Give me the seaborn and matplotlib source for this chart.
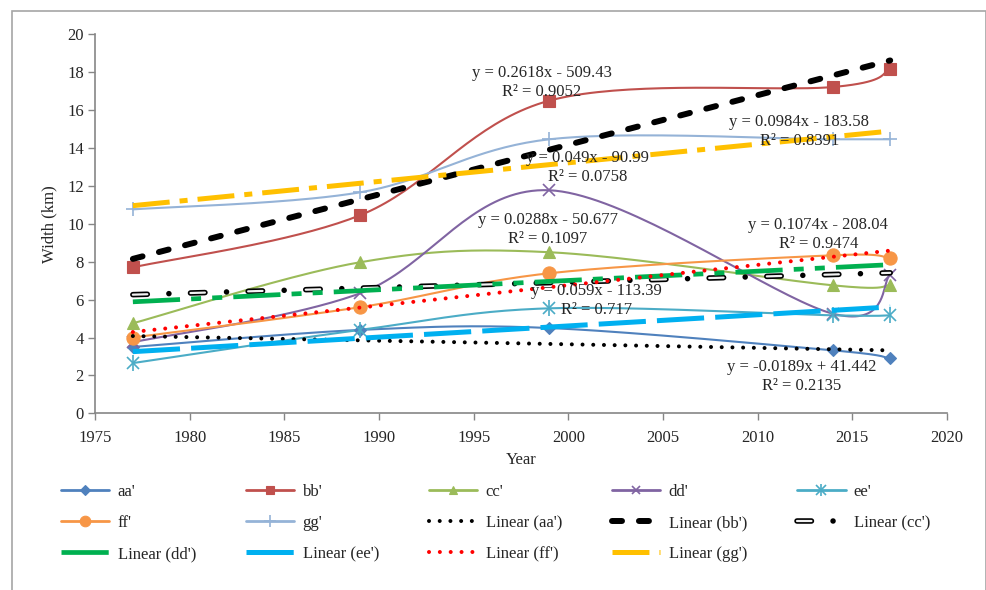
import numpy as np
import pandas as pd
import seaborn as sns
import matplotlib.pyplot as plt
from matplotlib.lines import Line2D
from matplotlib.patches import Rectangle

# data
years = [1977, 1989, 1999, 2014, 2017]
aa = [3.5, 4.4, 4.5, 3.32, 2.9]
bb = [7.7, 10.45, 16.5, 17.22, 18.15]
cc = [4.75, 7.97, 8.5, 6.75, 6.75]
dd = [3.75, 6.33, 11.77, 5.25, 7.3]
ee = [2.65, 4.4, 5.54, 5.17, 5.17]
ff = [4.0, 5.6, 7.39, 8.34, 8.18]
gg = [10.76, 11.66, 14.46, 14.46, 14.46]

names = ["aa'", "bb'", "cc'", "dd'", "ee'", "ff'", "gg'"]
values = [aa, bb, cc, dd, ee, ff, gg]

# trend line coefficients (from the labels)
slopes = [-0.0189, 0.2618, 0.0288, 0.049, 0.059, 0.1074, 0.0984]
icepts = [41.442, -509.43, -50.677, -90.99, -113.39, -208.04, -183.58]
eq_text = ["y = -0.0189x + 41.442", "y = 0.2618x - 509.43", "y = 0.0288x - 50.677",
           "y = 0.049x - 90.99", "y = 0.059x - 113.39", "y = 0.1074x - 208.04",
           "y = 0.0984x - 183.58"]
r2_text = ["R² = 0.2135", "R² = 0.9052", "R² = 0.1097", "R² = 0.0758",
           "R² = 0.717", "R² = 0.9474", "R² = 0.8391"]
eq_x = [2012.3, 1998.6, 1998.9, 2001.0, 2001.5, 2013.2, 2012.2]
eq_y = [2.43, 17.94, 10.18, 13.46, 6.44, 9.92, 15.36]

sns.set_theme(style="white")
plt.rcParams['font.family'] = ['Liberation Serif', 'DejaVu Serif']
plt.rcParams['lines.scale_dashes'] = False
FS = 12

colors = ['#4F81BD', '#C0504D', '#9BBB59', '#8064A2', '#4BACC6', '#F79646', '#95B3D7']
markers = ['D', 's', '^', 'x', 'x', 'o', '+']
msizes = [6.5, 8, 8, 8, 9, 9.5, 10]


def smooth(xs, ys, n=40):
    # catmull-rom style smoothing, like excel "smoothed line"
    p = np.column_stack([xs, ys]).astype(float)
    p = np.vstack([p[0], p, p[-1]])
    out = []
    for i in range(1, len(p) - 2):
        p0, p1, p2, p3 = p[i - 1], p[i], p[i + 1], p[i + 2]
        t = np.linspace(0, 1, n)[:, None]
        c1 = p1 + (p2 - p0) / 6
        c2 = p2 - (p3 - p1) / 6
        seg = (1 - t) ** 3 * p1 + 3 * (1 - t) ** 2 * t * c1 + 3 * (1 - t) * t ** 2 * c2 + t ** 3 * p2
        out.append(seg if i == 1 else seg[1:])
    out = np.vstack(out)
    return out[:, 0], out[:, 1]


fig = plt.figure(figsize=(9.87, 5.9), dpi=100)
ax = fig.add_axes([95 / 987, 1 - 413.3 / 590, (947 - 95) / 987, (413.3 - 34.3) / 590])

fig.patches.append(Rectangle((12 / 987, -0.1), (986 - 12) / 987, 1.1 - 11 / 590,
                             transform=fig.transFigure, fill=False,
                             edgecolor='#a6a6a6', linewidth=1.2, zorder=0))

# series (smoothed) + markers
handles = []
for name, vals, col, mk, ms in zip(names, values, colors, markers, msizes):
    sx, sy = smooth(years, vals)
    sns.lineplot(x=sx, y=sy, ax=ax, color=col, linewidth=1.5, sort=False,
                 estimator=None, zorder=3)
    mew = 1.2 if mk in ('x', '+') else 0.8
    ax.plot(years, vals, linestyle='none', marker=mk, markersize=ms, color=col,
            markeredgewidth=mew, zorder=4)
    h = Line2D([], [], color=col, linewidth=2, marker=mk, markersize=ms * 0.8,
               markeredgewidth=mew)
    if name == "ee'":
        ax.plot(years, vals, linestyle='none', marker='|', markersize=ms + 2,
                color=col, markeredgewidth=1.2, zorder=4)
        h = (h, Line2D([], [], color=col, linestyle='none', marker='|',
                       markersize=ms * 0.8 + 2, markeredgewidth=1.2))
    handles.append(h)

# trend line styles
trend_styles = [
    dict(color='black', linewidth=2.9, linestyle=(0, (0.01, 7.7)), dash_capstyle='round'),
    dict(color='black', linewidth=4.3, linestyle=(0, (7.2, 12.2)), dash_capstyle='round'),
    None,
    dict(color='#00B050', linewidth=3.4, linestyle=(0, (34, 8, 7.2, 8, 7.2, 8)),
         dash_capstyle='butt'),
    dict(color='#00B0F0', linewidth=3.6, linestyle=(0, (34, 8)), dash_capstyle='butt'),
    dict(color='#FF0000', linewidth=2.9, linestyle=(0, (0.01, 7.8)), dash_capstyle='round'),
    dict(color='#FFC000', linewidth=3.6, linestyle=(0, (26.6, 7.2, 5.8, 7.2)),
         dash_capstyle='butt'),
]

tx = np.array([years[0], years[-1]], dtype=float)
trend_handles = []
for i, (name, m, b) in enumerate(zip(names, slopes, icepts)):
    ty = m * tx + b
    if trend_styles[i] is None:
        # black outlined dash with white core, then a dot
        outer = dict(color='black', linewidth=4.0, linestyle=(0, (10.4, 15.55, 0.01, 15.55)),
                     dash_capstyle='round')
        inner = dict(color='#f2f2f2', linewidth=1.6, linestyle=(0, (10.4, 31.11)),
                     dash_capstyle='round')
        ax.plot(tx, ty, zorder=5, **outer)
        ax.plot(tx, ty, zorder=5, **inner)
        trend_handles.append((Line2D([], [], **outer), Line2D([], [], **inner)))
    else:
        ax.plot(tx, ty, zorder=5, **trend_styles[i])
        trend_handles.append(Line2D([], [], **trend_styles[i]))

# equation labels
for i in range(len(names)):
    ax.text(eq_x[i], eq_y[i], eq_text[i], ha='center', va='center', fontsize=FS, zorder=6)
    ax.text(eq_x[i], eq_y[i] - 1.0, r2_text[i], ha='center', va='center', fontsize=FS, zorder=6)

ax.set_xlim(1975, 2020)
ax.set_ylim(0, 20)
ax.set_xticks(range(1975, 2021, 5))
ax.set_yticks(range(0, 21, 2))
ax.tick_params(axis='both', direction='out', length=5, width=1, color='#868686',
               labelsize=FS, pad=3, left=True, bottom=True)
ax.tick_params(axis='x', pad=7)
for s in ['top', 'right']:
    ax.spines[s].set_visible(False)
for s in ['left', 'bottom']:
    ax.spines[s].set_color('#868686')
    ax.spines[s].set_linewidth(1.2)
ax.set_xlabel('Year', fontsize=FS, labelpad=4)
ax.set_ylabel('Width (km)', fontsize=FS, labelpad=7)

# legend filled row by row (matplotlib fills columns first)
all_handles = handles + trend_handles
all_labels = names + ['Linear (%s)' % n for n in names]
order = [0, 5, 10, 1, 6, 11, 2, 7, 12, 3, 8, 13, 4, 9]
fig.legend([all_handles[k] for k in order], [all_labels[k] for k in order],
           loc='upper left', ncol=5,
           bbox_to_anchor=(61 / 987, 1 - 484 / 590), frameon=False, fontsize=FS,
           handlelength=2.9, handletextpad=0.5, columnspacing=3.0, labelspacing=0.9,
           borderpad=0, borderaxespad=0)

fig.savefig('out.png', dpi=100)
